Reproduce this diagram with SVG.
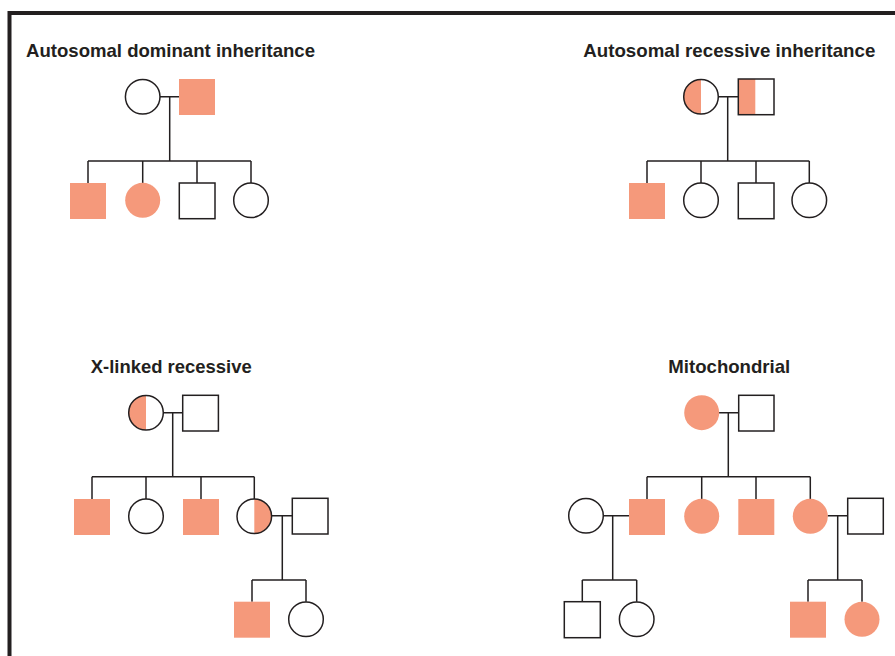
<svg xmlns="http://www.w3.org/2000/svg" width="895" height="656" viewBox="0 0 895 656">
<style>
.t{font-family:"Liberation Sans",Arial,sans-serif;font-weight:bold;font-size:18.5px;fill:#231f20}
.o{fill:#fff;stroke:#231f20;stroke-width:1.5}
.f{fill:#f5997b;stroke:none}
.fo{fill:none;stroke:#231f20;stroke-width:1.5}
.l{fill:none;stroke:#231f20;stroke-width:1.5}
</style>
<rect width="895" height="656" fill="#fff"/>
<path d="M9.5 656V13H895" fill="none" stroke="#231f20" stroke-width="4"/>

<text class="t" x="26" y="56.5" textLength="289" lengthAdjust="spacingAndGlyphs">Autosomal dominant inheritance</text>
<text class="t" x="583.3" y="56.5" textLength="292" lengthAdjust="spacingAndGlyphs">Autosomal recessive inheritance</text>
<text class="t" x="90.7" y="373.3" textLength="161" lengthAdjust="spacingAndGlyphs">X-linked recessive</text>
<text class="t" x="668.3" y="373.3" textLength="122" lengthAdjust="spacingAndGlyphs">Mitochondrial</text>

<g id="connectors">
<!-- AD -->
<path class="l" d="M160 96.7H179M169.7 96.7V161M88 161H251M88 161V183M142.7 161V183M197 161V183M251 161V183"/>
<!-- AR -->
<path class="l" d="M718.3 96.7H738.3M727.7 96.7V161M647 161H809.3M647 161V183M701 161V183M756 161V183M809.3 161V183"/>
<!-- XL -->
<path class="l" d="M163.3 412.7H182.7M172.7 412.7V476.7M92 476.7H254.3M92 476.7V499M146 476.7V499M201 476.7V499M254.3 476.7V499"/>
<path class="l" d="M271.6 515.7H292.3M282.3 515.7V580M252 580H306M252 580V601.7M306 580V601.7"/>
<!-- MT -->
<path class="l" d="M719 412.7H738.7M728.3 412.7V476.7M647 476.7H810.3M647 476.7V499M701.7 476.7V499M756 476.7V499M810.3 476.7V499"/>
<path class="l" d="M603.3 515.7H629M612.7 515.7V580M582.3 580H636.7M582.3 580V601.7M636.7 580V601.7"/>
<path class="l" d="M827.6 515.7H847.7M837.7 515.7V580M808 580H862M808 580V601.7M862 580V601.7"/>
</g>

<!-- Autosomal dominant -->
<g id="ad-mother"><circle class="o" cx="142.7" cy="96.7" r="17.3"/></g>
<g id="ad-father"><rect class="f" x="179" y="79" width="36" height="36"/></g>
<g id="ad-c1"><rect class="f" x="70" y="183" width="36" height="36"/></g>
<g id="ad-c2"><circle class="f" cx="142.7" cy="200.3" r="17.5"/></g>
<g id="ad-c3"><rect class="o" x="179.3" y="183" width="35.7" height="35.7"/></g>
<g id="ad-c4"><circle class="o" cx="251" cy="200.3" r="17.3"/></g>

<!-- Autosomal recessive -->
<g id="ar-mother"><path class="f" d="M701 79.4A17.3 17.3 0 0 0 701 114Z"/><circle class="fo" cx="701" cy="96.7" r="17.3"/></g>
<g id="ar-father"><rect class="f" x="738.3" y="79" width="17" height="36"/><rect class="fo" x="738.3" y="79" width="35.7" height="35.7"/></g>
<g id="ar-c1"><rect class="f" x="629" y="183" width="36" height="36"/></g>
<g id="ar-c2"><circle class="o" cx="701" cy="200.3" r="17.3"/></g>
<g id="ar-c3"><rect class="o" x="738.3" y="183" width="35.7" height="35.7"/></g>
<g id="ar-c4"><circle class="o" cx="809.3" cy="200.3" r="17.3"/></g>

<!-- X-linked recessive -->
<g id="xl-mother"><path class="f" d="M146 395.4A17.3 17.3 0 0 0 146 430Z"/><circle class="fo" cx="146" cy="412.7" r="17.3"/></g>
<g id="xl-father"><rect class="o" x="182.7" y="395.3" width="35.7" height="35.7"/></g>
<g id="xl-c1"><rect class="f" x="74" y="499" width="36" height="36"/></g>
<g id="xl-c2"><circle class="o" cx="146" cy="516.3" r="17.3"/></g>
<g id="xl-c3"><rect class="f" x="183" y="499" width="36" height="36"/></g>
<g id="xl-c4"><path class="f" d="M254.3 499A17.3 17.3 0 0 1 254.3 533.6Z"/><circle class="fo" cx="254.3" cy="516.3" r="17.3"/></g>
<g id="xl-c4-spouse"><rect class="o" x="292.3" y="498.3" width="35.7" height="35.7"/></g>
<g id="xl-g1"><rect class="f" x="234" y="601.7" width="36" height="36"/></g>
<g id="xl-g2"><circle class="o" cx="306" cy="619.3" r="17.3"/></g>

<!-- Mitochondrial -->
<g id="mt-mother"><circle class="f" cx="701.7" cy="412.7" r="17.5"/></g>
<g id="mt-father"><rect class="o" x="738.7" y="395.3" width="35.3" height="35.7"/></g>
<g id="mt-spouse-left"><circle class="o" cx="586" cy="515.7" r="17.3"/></g>
<g id="mt-c1"><rect class="f" x="629" y="499" width="36" height="36"/></g>
<g id="mt-c2"><circle class="f" cx="701.7" cy="516.3" r="17.5"/></g>
<g id="mt-c3"><rect class="f" x="738.3" y="499" width="36" height="36"/></g>
<g id="mt-c4"><circle class="f" cx="810.3" cy="516.3" r="17.5"/></g>
<g id="mt-spouse-right"><rect class="o" x="847.7" y="498.3" width="35.6" height="35.7"/></g>
<g id="mt-g1"><rect class="o" x="564.3" y="601.7" width="36" height="36"/></g>
<g id="mt-g2"><circle class="o" cx="636.7" cy="619.3" r="17.3"/></g>
<g id="mt-g3"><rect class="f" x="790" y="601.7" width="36" height="36"/></g>
<g id="mt-g4"><circle class="f" cx="862" cy="619.3" r="17.5"/></g>
</svg>
